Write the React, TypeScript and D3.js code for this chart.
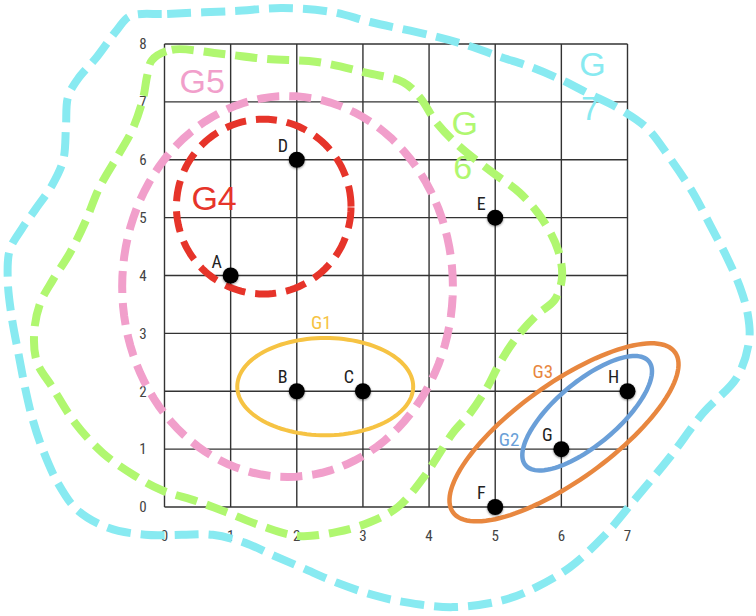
import React from 'react';
import * as d3 from 'd3';

const width = 756;
const height = 616;

const xTicks = [0, 1, 2, 3, 4, 5, 6, 7];
const yTicks = [0, 1, 2, 3, 4, 5, 6, 7, 8];

const pointNames = ['A', 'B', 'C', 'D', 'E', 'F', 'G', 'H'];
const pointX = [1, 2, 3, 2, 5, 5, 6, 7];
const pointY = [4, 2, 2, 6, 5, 0, 1, 2];

// ellipses: centre, end of one semi-axis, end of the conjugate semi-axis (data units)
const ellipseNames = ['G5', 'G4', 'G1', 'G3', 'G2'];
const ellipseCenter = [[1.86, 3.81], [1.5, 5.19], [2.43, 2.08], [6.04, 1.29], [6.39, 1.62]];
const ellipseAxisA = [[4.36, 3.81], [2.82, 5.19], [3.76, 2.08], [7.72, 2.67], [7.32, 2.52]];
const ellipseAxisB = [[1.86, 7.1], [1.5, 6.7], [2.43, 2.92], [6.46, 0.61], [6.7, 1.21]];

// free-hand groups
const g6Outline: [number, number][] = [
  [-0.19, 7.72], [0.11, 7.9], [0.79, 7.84], [1.55, 7.74], [2.31, 7.69], [3.06, 7.5],
  [3.61, 7.34], [3.86, 7.08], [4.12, 6.63], [4.47, 6.22], [4.97, 5.77], [5.37, 5.43],
  [5.72, 4.96], [5.95, 4.44], [6.01, 3.97], [5.9, 3.58], [5.63, 3.32], [5.33, 2.94],
  [5.07, 2.49], [4.88, 2.07], [4.62, 1.62], [4.36, 1.28], [4.12, 0.86], [3.91, 0.5],
  [3.53, 0.0], [3.11, -0.26], [2.61, -0.43], [2.02, -0.5], [1.47, -0.33], [0.96, -0.1],
  [0.49, 0.1], [-0.04, 0.29], [-0.45, 0.54], [-0.93, 0.93], [-1.35, 1.45], [-1.69, 2.06],
  [-1.93, 2.51], [-1.97, 3.02], [-1.88, 3.52], [-1.69, 3.92], [-1.43, 4.39], [-1.2, 4.92],
  [-0.98, 5.53], [-0.7, 6.08], [-0.49, 6.51], [-0.33, 7.03], [-0.26, 7.46],
];

const g7Outline: [number, number][] = [
  [-0.52, 8.48], [0.04, 8.52], [1.04, 8.57], [1.79, 8.62], [2.55, 8.55], [3.11, 8.38],
  [4.06, 8.14], [4.57, 7.98], [5.07, 7.78], [5.57, 7.59], [6.04, 7.36], [6.4, 7.15],
  [6.86, 6.89], [7.3, 6.54], [7.64, 6.03], [7.99, 5.43], [8.25, 4.87], [8.5, 4.32],
  [8.7, 3.8], [8.82, 3.32], [8.84, 2.89], [8.66, 2.25], [8.14, 1.62], [7.64, 0.86],
  [7.14, 0.17], [6.63, -0.52], [6.13, -1.04], [5.63, -1.38], [5.12, -1.61], [4.36, -1.73],
  [3.61, -1.64], [3.15, -1.52], [2.61, -1.31], [2.08, -1.05], [1.63, -0.83], [1.22, -0.62],
  [0.73, -0.48], [0.26, -0.48], [-0.29, -0.48], [-0.85, -0.36], [-1.32, -0.05], [-1.61, 0.41],
  [-1.85, 1.02], [-2.0, 1.54], [-2.11, 2.07], [-2.21, 2.66], [-2.31, 3.28], [-2.37, 3.92],
  [-2.34, 4.44], [-2.15, 4.82], [-1.96, 5.13], [-1.7, 5.56], [-1.53, 6.0], [-1.49, 6.57],
  [-1.46, 7.08], [-1.32, 7.38], [-1.02, 7.78], [-0.72, 8.24],
];

// group label anchors (data units, text baseline)
const groupLabelNames = ['G1', 'G2', 'G3', 'G4', 'G5', 'G6', 'G7'];
const groupLabelX = [2.37, 5.21, 5.72, 0.75, 0.57, 4.54, 6.47];
const groupLabelY = [3.08, 1.05, 2.23, 5.13, 7.15, 6.43, 7.45];

const styles: Record<string, { color: string; width: number; dash?: string; size: number; big: boolean }> = {
  G1: { color: '#f6c343', width: 4, size: 19, big: false },
  G2: { color: '#6a9fd8', width: 4.5, size: 19, big: false },
  G3: { color: '#e8873f', width: 4.5, size: 19, big: false },
  G4: { color: '#e6342a', width: 7, dash: '21 10', size: 34, big: true },
  G5: { color: '#f19fcb', width: 8, dash: '22 10', size: 34, big: true },
  G6: { color: '#b0f770', width: 8, dash: '22 10', size: 34, big: true },
  G7: { color: '#88eaf1', width: 8, dash: '24 10', size: 34, big: true },
};

const narrow = "'Liberation Sans Narrow', 'Arial Narrow', 'Roboto Condensed', 'Liberation Sans', sans-serif";
const wide = "'Liberation Sans', Arial, Helvetica, sans-serif";

const App: React.FC = () => {
  const x = d3.scaleLinear().domain([0, 7]).range([164.5, 627.5]);
  const y = d3.scaleLinear().domain([0, 8]).range([507, 44]);

  const ellipsePath = (c: number[], a: number[], b: number[]) => {
    const pts: [number, number][] = d3.range(120).map((i) => {
      const t = (i / 120) * 2 * Math.PI;
      return [
        x(c[0] + Math.cos(t) * (a[0] - c[0]) + Math.sin(t) * (b[0] - c[0])),
        y(c[1] + Math.cos(t) * (a[1] - c[1]) + Math.sin(t) * (b[1] - c[1])),
      ];
    });
    return d3.line().curve(d3.curveLinearClosed)(pts) || '';
  };

  const blob = d3
    .line<[number, number]>()
    .x((d) => x(d[0]))
    .y((d) => y(d[1]))
    .curve(d3.curveCatmullRomClosed.alpha(0.5));

  return (
    <svg width={width} height={height} style={{ position: 'absolute', left: 0, top: 0, background: '#fff' }}>
      <defs>
        <filter id="dotShadow" x="-50%" y="-50%" width="200%" height="200%">
          <feDropShadow dx="0" dy="1" stdDeviation="1.2" floodColor="#000" floodOpacity="0.45" />
        </filter>
      </defs>

      {/* grid */}
      <g stroke="#333" strokeWidth={1.4}>
        {xTicks.map((t) => (
          <line key={'vx' + t} x1={x(t)} x2={x(t)} y1={y(0)} y2={y(8)} />
        ))}
        {yTicks.map((t) => (
          <line key={'hy' + t} x1={x(0)} x2={x(7)} y1={y(t)} y2={y(t)} />
        ))}
      </g>

      {/* tick labels */}
      <g fill="#444" fontFamily={narrow} fontSize={15}>
        {yTicks.map((t) => (
          <text key={'ly' + t} x={143} y={y(t)} dy="0.35em" textAnchor="middle">{t}</text>
        ))}
        {xTicks.map((t) => (
          <text key={'lx' + t} x={x(t)} y={541} textAnchor="middle">{t}</text>
        ))}
      </g>

      {/* free-hand groups */}
      <path d={blob(g7Outline) || ''} fill="none" stroke={styles.G7.color} strokeWidth={styles.G7.width} strokeDasharray={styles.G7.dash} />
      <path d={blob(g6Outline) || ''} fill="none" stroke={styles.G6.color} strokeWidth={styles.G6.width} strokeDasharray={styles.G6.dash} />

      {/* ellipse groups */}
      {ellipseNames.map((name, i) => (
        <path
          key={name}
          d={ellipsePath(ellipseCenter[i], ellipseAxisA[i], ellipseAxisB[i])}
          fill="none"
          stroke={styles[name].color}
          strokeWidth={styles[name].width}
          strokeDasharray={styles[name].dash}
        />
      ))}

      {/* points */}
      {pointNames.map((n, i) => (
        <g key={n}>
          <circle cx={x(pointX[i])} cy={y(pointY[i])} r={8} fill="#000" filter="url(#dotShadow)" />
          <text x={x(pointX[i]) - 14} y={y(pointY[i]) - 8} textAnchor="middle" fontFamily={narrow} fontSize={18} fill="#222">
            {n}
          </text>
        </g>
      ))}

      {/* group labels */}
      {groupLabelNames.map((name, i) => {
        const s = styles[name];
        const twoLines = name === 'G6' || name === 'G7';
        return (
          <text
            key={'gl' + name}
            x={x(groupLabelX[i])}
            y={y(groupLabelY[i])}
            textAnchor="middle"
            fontFamily={s.big ? wide : narrow}
            fontSize={s.size}
            fill={s.color}
          >
            {twoLines ? (
              <>
                <tspan x={x(groupLabelX[i])}>G</tspan>
                <tspan x={x(groupLabelX[i]) - 2} dy={44}>{name.slice(1)}</tspan>
              </>
            ) : (
              name
            )}
          </text>
        );
      })}
    </svg>
  );
};

export default App;
